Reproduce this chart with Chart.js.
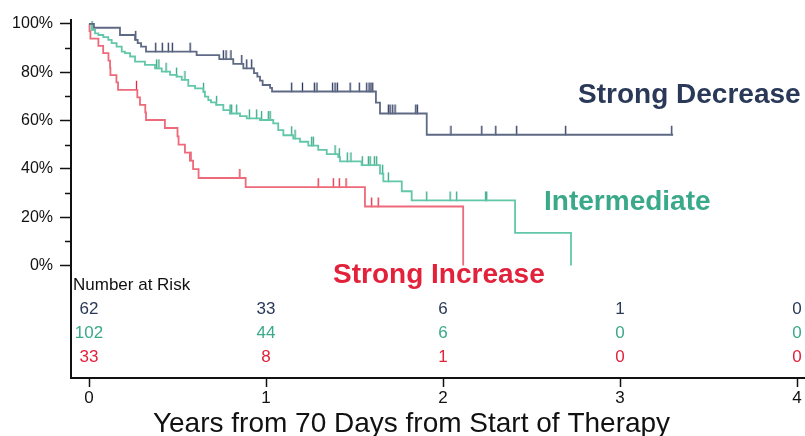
<!DOCTYPE html>
<html><head><meta charset="utf-8">
<script src="https://cdn.jsdelivr.net/npm/chart.js@4.4.1/dist/chart.umd.min.js"></script>
<style>html,body{margin:0;padding:0;background:#fff;}#wrap{width:805px;height:436px;}</style>
</head><body><div id="wrap"><canvas id="c" width="805" height="436"></canvas></div>
<script>
// ---- data ----
const groupNames = ['Strong Decrease', 'Intermediate', 'Strong Increase'];

const decTimes = [0, 0.028, 0.175, 0.260, 0.275, 0.294, 0.322, 0.608, 0.736, 0.815, 0.872, 0.932, 0.951, 0.966, 0.981, 1.023, 1.034, 1.621, 1.644, 1.908, 3.300];
const decSurv  = [100, 98.4, 95.4, 93.4, 92.0, 90.6, 88.5, 87.1, 85.4, 83.4, 81.6, 79.6, 78.2, 76.5, 74.7, 73.5, 72.0, 67.4, 62.9, 54.1, 54.1];
const decCensor = [0.264, 0.377, 0.414, 0.448, 0.471, 0.571, 0.759, 0.774, 0.802, 0.863, 0.891, 0.919, 1.145, 1.206, 1.273, 1.288, 1.376, 1.390, 1.403, 1.475, 1.527, 1.569, 1.582, 1.593, 1.603, 1.691, 1.701, 1.716, 1.729, 1.846, 1.855, 2.045, 2.219, 2.298, 2.416, 2.693, 3.292];

const intTimes = [0, 0.015, 0.034, 0.053, 0.081, 0.109, 0.128, 0.156, 0.185, 0.203, 0.232, 0.260, 0.316, 0.373, 0.411, 0.458, 0.495, 0.524, 0.561, 0.599, 0.646, 0.655, 0.674, 0.689, 0.718, 0.759, 0.797, 0.853, 0.891, 0.966, 1.041, 1.069, 1.098, 1.154, 1.192, 1.239, 1.295, 1.343, 1.408, 1.418, 1.540, 1.644, 1.663, 1.767, 1.823, 2.407, 2.723];
const intSurv  = [100, 97.5, 96.1, 95.4, 94.5, 93.4, 92.0, 90.6, 88.5, 87.9, 86.5, 84.4, 83.0, 81.6, 80.2, 78.9, 78.2, 76.8, 74.3, 73.3, 71.9, 69.9, 68.4, 67.5, 66.5, 64.3, 62.9, 61.8, 60.9, 60.2, 58.8, 56.0, 53.9, 52.5, 51.2, 49.6, 47.8, 46.1, 44.8, 43.1, 41.5, 38.0, 34.8, 30.7, 26.9, 13.5, 0];
const intCensor = [0.017, 0.382, 0.395, 0.435, 0.495, 0.542, 0.647, 0.721, 0.797, 0.806, 0.834, 0.906, 0.947, 0.975, 1.013, 1.023, 1.145, 1.164, 1.258, 1.267, 1.390, 1.414, 1.459, 1.480, 1.544, 1.578, 1.588, 1.612, 1.625, 1.659, 1.691, 1.908, 2.040, 2.077, 2.241, 2.247];

const incTimes = [0, 0.003, 0.008, 0.053, 0.080, 0.110, 0.119, 0.121, 0.155, 0.164, 0.273, 0.288, 0.318, 0.322, 0.429, 0.500, 0.506, 0.542, 0.570, 0.588, 0.619, 0.885, 1.559, 2.114];
const incSurv  = [100, 97.0, 93.9, 90.9, 87.9, 84.8, 81.8, 78.8, 75.8, 72.7, 69.6, 66.5, 63.3, 60.2, 56.9, 53.4, 50.0, 46.7, 43.4, 39.9, 36.2, 32.4, 24.4, 0];
const incCensor = [0.268, 0.576, 0.852, 1.295, 1.380, 1.414, 1.452, 1.597, 1.634];

const riskTimes = [0, 1, 2, 3, 4];
const riskDec = [62, 33, 6, 1, 0];
const riskInt = [102, 44, 6, 0, 0];
const riskInc = [33, 8, 1, 0, 0];

const xTicks = [0, 1, 2, 3, 4];
const yTicks = [0, 20, 40, 60, 80, 100];
const yMinorTicks = [10, 30, 50, 70, 90];

const xTitle = 'Years from 70 Days from Start of Therapy';
const riskTitle = 'Number at Risk';

// ---- styling ----
const FONT = '"Liberation Sans", Arial, Helvetica, sans-serif';
const lineCol = ['#5e6a84', '#62c7a9', '#ee6a7a'];
const tickCol = ['#27345a', '#2ea582', '#e2283f'];
const textCol = ['#2a3958', '#3aa98a', '#e2223b'];

function survAt(times, surv, t) {
  let v = surv[0];
  for (let i = 0; i < times.length; i++) { if (times[i] <= t) v = surv[i]; else break; }
  return v;
}
function tickImg(color) {
  const c = document.createElement('canvas');
  c.width = 3; c.height = 20;
  const g = c.getContext('2d');
  g.strokeStyle = color; g.lineWidth = 1.3;
  g.beginPath(); g.moveTo(1.5, 1); g.lineTo(1.5, 10.5); g.stroke();
  return c;
}
const curves = [[decTimes, decSurv, decCensor], [intTimes, intSurv, intCensor], [incTimes, incSurv, incCensor]];
const datasets = [];
curves.forEach((cv, i) => {
  datasets.push({
    type: 'line', label: groupNames[i],
    data: cv[0].map((t, k) => ({x: t, y: cv[1][k]})),
    stepped: true, borderColor: lineCol[i], borderWidth: 1.8,
    pointRadius: 0, fill: false, tension: 0
  });
});
curves.forEach((cv, i) => {
  datasets.push({
    type: 'line', label: groupNames[i] + ' censored',
    data: cv[2].map(t => ({x: t, y: survAt(cv[0], cv[1], t)})),
    showLine: false, pointStyle: tickImg(tickCol[i]), pointRadius: 3,
    borderColor: tickCol[i], backgroundColor: tickCol[i]
  });
});

const riskRows = [riskDec, riskInt, riskInc];
const labelAnchors = [
  {text: groupNames[0], x: 2.763, y: 67.3, size: 28},
  {text: groupNames[1], x: 2.571, y: 22.9, size: 28},
  {text: groupNames[2], x: 1.379, y: -7.4, size: 28}
];

const overlay = {
  id: 'overlay',
  afterDraw(chart) {
    const ctx = chart.ctx, xs = chart.scales.x, ys = chart.scales.y;
    ctx.save();
    // minor y ticks
    ctx.strokeStyle = '#111'; ctx.lineWidth = 1.5;
    yMinorTicks.forEach(v => {
      const y = Math.round(ys.getPixelForValue(v)) + 0.5;
      ctx.beginPath(); ctx.moveTo(xs.left - 6, y); ctx.lineTo(xs.left, y); ctx.stroke();
    });
    // group labels
    labelAnchors.forEach((a, i) => {
      ctx.font = 'bold ' + a.size + 'px ' + FONT;
      ctx.fillStyle = textCol[i];
      ctx.textAlign = 'left'; ctx.textBaseline = 'alphabetic';
      ctx.fillText(a.text, xs.getPixelForValue(a.x), ys.getPixelForValue(a.y));
    });
    // risk table
    const y0 = ys.getPixelForValue(0);
    ctx.font = '17px ' + FONT; ctx.fillStyle = '#111';
    ctx.textAlign = 'left'; ctx.textBaseline = 'middle';
    ctx.fillText(riskTitle, xs.left + 2, y0 + 19.5);
    ctx.textAlign = 'center';
    riskRows.forEach((row, r) => {
      ctx.fillStyle = textCol[r];
      row.forEach((n, k) => ctx.fillText(String(n), xs.getPixelForValue(riskTimes[k]), y0 + 43.5 + r * 24));
    });
    // x title
    ctx.font = '28px ' + FONT; ctx.fillStyle = '#111';
    ctx.textAlign = 'center'; ctx.textBaseline = 'alphabetic';
    ctx.fillText(xTitle, xs.getPixelForValue(1.822), chart.height - 4);
    ctx.restore();
  }
};

new Chart(document.getElementById('c'), {
  data: {datasets},
  options: {
    responsive: false, animation: false, devicePixelRatio: 1,
    layout: {autoPadding: false, padding: {top: 20, left: 0, right: 0, bottom: 0}},
    plugins: {legend: {display: false}, tooltip: {enabled: false}},
    scales: {
      x: {
        type: 'linear', min: -0.1017, max: 4.045,
        afterBuildTicks: s => { s.ticks = xTicks.map(v => ({value: v})); },
        afterFit: s => { s.height = 58; s.paddingLeft = 0; s.paddingRight = 0; },
        border: {display: true, color: '#111', width: 2},
        grid: {drawOnChartArea: false, drawTicks: true, tickLength: 9, tickColor: '#111', tickWidth: 1.5},
        ticks: {font: {size: 17, family: FONT}, color: '#111', padding: 1, maxRotation: 0, autoSkip: false}
      },
      y: {
        type: 'linear', min: -46.6, max: 101.6,
        afterBuildTicks: s => { s.ticks = yTicks.map(v => ({value: v})); },
        afterFit: s => { s.width = 71; s.paddingTop = 0; s.paddingBottom = 0; },
        border: {display: true, color: '#111', width: 2},
        grid: {drawOnChartArea: false, drawTicks: true, tickLength: 11, tickColor: '#111', tickWidth: 1.5},
        ticks: {font: {size: 16, family: FONT}, color: '#111', padding: 7, callback: v => v + '%', autoSkip: false}
      }
    }
  },
  plugins: [overlay]
});
</script>
</body></html>
